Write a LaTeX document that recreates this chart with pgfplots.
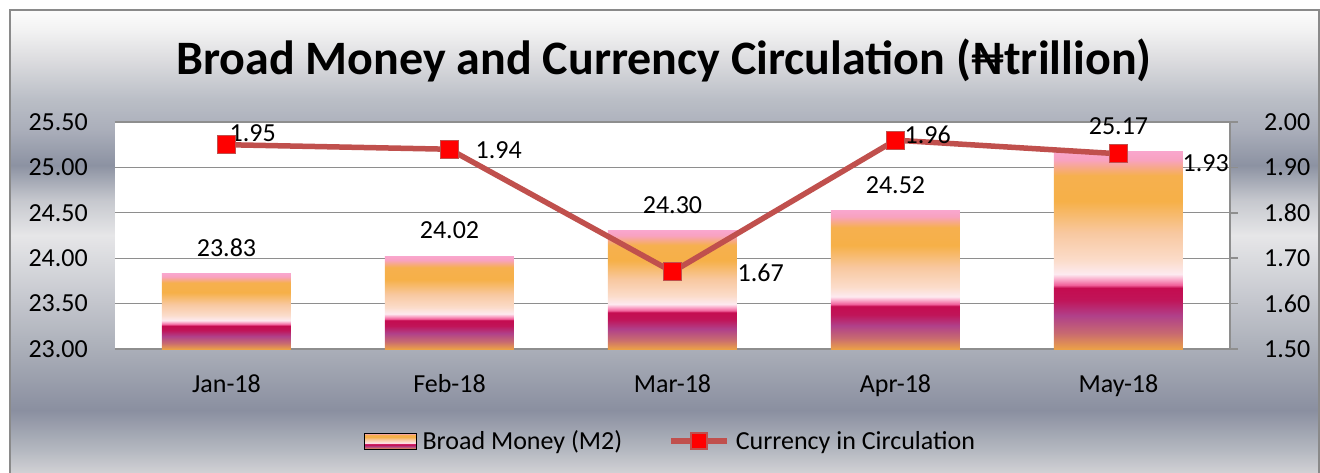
\documentclass[border=0pt]{standalone}
\usepackage{pgfplots}
\pgfplotsset{compat=1.18}
\usepackage{fontspec}
\setmainfont{Carlito}
\definecolor{linered}{HTML}{C0504D}
\definecolor{gridgray}{HTML}{8E8E8E}
\definecolor{framegray}{HTML}{8A8A8A}
% bar gradient colours
\definecolor{bf00}{HTML}{EBA048}
\definecolor{bf01}{HTML}{C86A70}
\definecolor{bf02}{HTML}{B0408A}
\definecolor{bf03}{HTML}{C01458}
\definecolor{bf04}{HTML}{C40C50}
\definecolor{bf05}{HTML}{F0609A}
\definecolor{bf06}{HTML}{F9A0C4}
\definecolor{bf07}{HTML}{FDEAF0}
\definecolor{bf08}{HTML}{FBDCCA}
\definecolor{bf09}{HTML}{F8C8A0}
\definecolor{bf10}{HTML}{F6B048}
\definecolor{bf11}{HTML}{F6B04E}
\definecolor{bf12}{HTML}{F8A2C0}
\definecolor{bf13}{HTML}{F9A6CC}
\pgfdeclareverticalshading{barfire}{100bp}{%
 color(0bp)=(bf00); color(25bp)=(bf00); color(29bp)=(bf01); color(33.5bp)=(bf02);
 color(37.5bp)=(bf03); color(40.5bp)=(bf04); color(41.25bp)=(bf05); color(42.5bp)=(bf06);
 color(44bp)=(bf07); color(47.5bp)=(bf08); color(54.5bp)=(bf09); color(62.5bp)=(bf10);
 color(69bp)=(bf11); color(73bp)=(bf12); color(75bp)=(bf13); color(100bp)=(bf13)}
% silver background colours
\definecolor{sv00}{HTML}{D0D0D4}
\definecolor{sv01}{HTML}{B4B8C0}
\definecolor{sv02}{HTML}{8A8FA0}
\definecolor{sv03}{HTML}{AAAEB8}
\definecolor{sv04}{HTML}{CACCD2}
\definecolor{sv05}{HTML}{E6E6E8}
\definecolor{sv06}{HTML}{C6C8CE}
\definecolor{sv07}{HTML}{8C92A2}
\definecolor{sv08}{HTML}{AAAEBA}
\definecolor{sv09}{HTML}{BABEC6}
\definecolor{sv10}{HTML}{DCDCDF}
\definecolor{sv11}{HTML}{F2F2F2}
\definecolor{sv12}{HTML}{FCFCFC}
\pgfdeclareverticalshading{silverbg}{100bp}{%
 color(0bp)=(sv00); color(25bp)=(sv00); color(27.4bp)=(sv01); color(31.7bp)=(sv02);
 color(38.2bp)=(sv03); color(44.7bp)=(sv04); color(50.6bp)=(sv05); color(54.4bp)=(sv06);
 color(58.2bp)=(sv07); color(62bp)=(sv08); color(65.3bp)=(sv09); color(69.6bp)=(sv10);
 color(72.8bp)=(sv11); color(75bp)=(sv12); color(100bp)=(sv12)}
\pgfkeys{/pgf/number format/.cd, fixed, fixed zerofill, precision=2, assume math mode=true}
\newcommand{\lblfont}{\fontsize{26}{30}\selectfont}
\begin{document}
\begin{tikzpicture}
\clip (0pt,0pt) rectangle (1320pt,472pt);
\shade[shading=silverbg] (10pt,0pt) rectangle (1319pt,462pt);
\draw[framegray, line width=1.5pt] (10pt,-10pt) rectangle (1319pt,462pt);
\node[anchor=base, font=\bfseries\fontsize{48}{54}\selectfont] at (664pt,397pt)
  {Broad Money and Currency Circulation (₦trillion)};

\begin{axis}[
  at={(115pt,123pt)}, anchor=south west,
  scale only axis, width=1115pt, height=227pt,
  xmin=-0.5, xmax=4.5, ymin=23, ymax=25.5,
  y coord trafo/.code={\pgfmathparse{#1-23}},
  y coord inv trafo/.code={\pgfmathparse{#1+23}},
  ytick={23,23.5,24,24.5,25,25.5},
  xtick={0,1,2,3,4},
  xticklabels={Jan-18,Feb-18,Mar-18,Apr-18,May-18},
  axis x line*=bottom, axis y line*=left,
  x axis line style={draw=gridgray, line width=1.5pt, -},
  y axis line style={draw=none, -},
  tick style={draw=none},
  ymajorgrids, grid style={draw=gridgray, line width=1.2pt},
  axis background/.style={fill=white},
  ticklabel style={font=\lblfont, text=black},
  yticklabel style={anchor=east, inner sep=0pt, xshift=-27pt},
  xticklabel style={anchor=north, inner sep=0pt, yshift=-21pt},
  ybar, bar width=129pt, bar shift=0pt,
  nodes near coords, point meta=rawy,
  every node near coord/.append style={font=\lblfont, text=black, anchor=south, inner sep=0pt, yshift=17pt},
]
\addplot[shade, shading=barfire, draw=none] coordinates {(0,23.83)};
\addplot[shade, shading=barfire, draw=none] coordinates {(1,24.02)};
\addplot[shade, shading=barfire, draw=none] coordinates {(2,24.30)};
\addplot[shade, shading=barfire, draw=none] coordinates {(3,24.52)};
\addplot[shade, shading=barfire, draw=none] coordinates {(4,25.17)};
\end{axis}

\begin{axis}[
  at={(115pt,123pt)}, anchor=south west,
  scale only axis, width=1115pt, height=227pt,
  xmin=-0.5, xmax=4.5, ymin=1.5, ymax=2.0,
  ytick={1.5,1.6,1.7,1.8,1.9,2.0},
  axis x line=none, axis y line*=right,
  y axis line style={draw=gridgray, line width=1.5pt, -},
  ytick style={draw=gridgray, line width=1.5pt},
  tick align=outside, major tick length=8pt,
  yticklabel style={font=\lblfont, text=black, anchor=west, inner sep=0pt, xshift=26pt},
  clip=false,
  legend style={draw=none, fill=none, at={(0.2233,-0.4053)}, anchor=west,
    legend columns=2, font=\lblfont, inner sep=0pt, nodes={inner sep=0pt},
    /tikz/every odd column/.append style={column sep=6pt},
    /tikz/every even column/.append style={column sep=46pt}},
]
\addlegendimage{legend image code/.code={\shade[shading=barfire] (0pt,-8pt) rectangle (52pt,8pt);}}
\addlegendentry{Broad Money (M2)}
\addplot[color=linered, line width=5.5pt, mark=square*,
  mark options={mark size=9pt, fill=red, draw=linered, line width=1.2pt},
  legend image code/.code={\draw[mark repeat=2,mark phase=2,
     mark options={mark size=8pt, fill=red, draw=linered, line width=1.2pt}]
     plot coordinates {(0pt,0pt) (28pt,0pt) (56pt,0pt)};}]
  coordinates {(0,1.95) (1,1.94) (2,1.67) (3,1.96) (4,1.93)};
\addlegendentry{Currency in Circulation}
\node[anchor=west, inner sep=0pt, font=\lblfont, xshift=3pt, yshift=12pt] at (axis cs:0,1.95) {1.95};
\node[anchor=west, inner sep=0pt, font=\lblfont, xshift=26pt, yshift=-1pt] at (axis cs:1,1.94) {1.94};
\node[anchor=west, inner sep=0pt, font=\lblfont, xshift=65pt, yshift=-1pt] at (axis cs:2,1.67) {1.67};
\node[anchor=west, inner sep=0pt, font=\lblfont, xshift=9pt, yshift=5pt] at (axis cs:3,1.96) {1.96};
\node[anchor=west, inner sep=0pt, font=\lblfont, xshift=64pt, yshift=-9pt] at (axis cs:4,1.93) {1.93};
\end{axis}
\end{tikzpicture}
\end{document}
